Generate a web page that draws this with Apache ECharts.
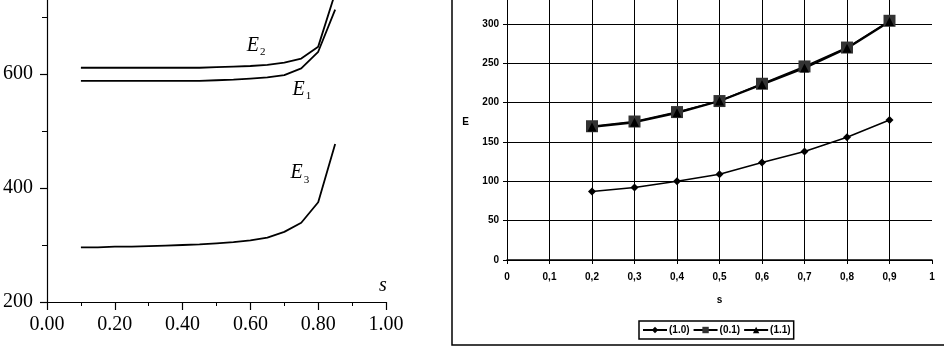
<!DOCTYPE html>
<html>
<head>
<meta charset="utf-8">
<title>E(s)</title>
<script src="https://cdn.jsdelivr.net/npm/echarts@6/dist/echarts.min.js"></script>
<style>
    html, body { margin: 0; padding: 0; background: #fff; }
    #chart_dom { width: 944px; height: 347px; }
</style>
</head>
<body>
<div id="chart_dom"></div>
<script>
// left panel: E1, E2, E3 against s
const sLeft = [0.1, 0.15, 0.2, 0.25, 0.3, 0.35, 0.4, 0.45, 0.5, 0.55, 0.6, 0.65, 0.7, 0.75, 0.8, 0.85]
const E1 = [588, 588, 588, 588, 588, 588, 588, 588, 589, 590, 592, 594, 598, 610, 639, 713]
const E2 = [611, 611, 611, 611, 611, 611, 611, 611, 612, 613, 614, 616, 620, 627, 648, 742]
const E3 = [296, 296, 297, 297, 298, 299, 300, 301, 303, 305, 308, 313, 323, 339, 375, 477]
// where the curve names sit, in data units [s, E]
const leftNames = ['E1', 'E2', 'E3']
const leftNamePos = [[0.752, 573], [0.617, 649], [0.746, 426]]

// right panel: three cases
const sRight = [0.2, 0.3, 0.4, 0.5, 0.6, 0.7, 0.8, 0.9]
const r10 = [87, 92, 100, 109, 124, 138, 156, 178]
const r01 = [170, 176, 188, 202, 224, 246, 270, 304]
const r11 = [169, 175, 187, 202, 223, 244, 269, 303]
const rightNames = ['(1.0)', '(0.1)', '(1.1)']

const serif = 'Liberation Serif'
const sans = 'Liberation Sans'

function pairs(xs, ys) {
    return xs.map((x, i) => [x, ys[i]])
}

const chart = echarts.init(document.getElementById('chart_dom'), null, { renderer: 'canvas' })

const leftSeries = [E1, E2, E3].map((ys, i) => ({
    name: leftNames[i],
    type: 'line',
    xAxisIndex: 0,
    yAxisIndex: 0,
    data: pairs(sLeft, ys),
    symbol: 'none',
    smooth: false,
    lineStyle: { color: '#000', width: 1.8 },
    markPoint: {
        symbol: 'circle',
        symbolSize: 0,
        data: [{
            coord: leftNamePos[i],
            label: {
                show: true,
                formatter: '{e|E}{sub|' + leftNames[i].slice(1) + '}',
                rich: {
                    e: { fontFamily: serif, fontStyle: 'italic', fontSize: 20, lineHeight: 22, color: '#000' },
                    sub: { fontFamily: serif, fontSize: 11, lineHeight: 12, color: '#000', verticalAlign: 'top', padding: [12, 0, 0, 1] },
                },
            },
        }],
    },
}))

const rightStyle = [
    { symbol: 'diamond', symbolSize: 8, color: '#000', width: 1.5 },
    { symbol: 'rect', symbolSize: 12, color: '#333', width: 1.5 },
    { symbol: 'triangle', symbolSize: 9, color: '#000', width: 2.2 },
]

const rightSeries = [r10, r01, r11].map((ys, i) => ({
    name: rightNames[i],
    type: 'line',
    xAxisIndex: 1,
    yAxisIndex: 1,
    data: pairs(sRight, ys),
    symbol: rightStyle[i].symbol,
    symbolSize: rightStyle[i].symbolSize,
    showAllSymbol: true,
    itemStyle: { color: rightStyle[i].color },
    lineStyle: { color: '#000', width: rightStyle[i].width },
}))

const option = {
    animation: false,
    grid: [
        { left: 47, top: -40, width: 339, height: 342, outerBoundsMode: 'none', containLabel: false },
        { left: 507, top: -15.4, width: 425, height: 275.4, outerBoundsMode: 'none', containLabel: false },
    ],
    xAxis: [
        {
            gridIndex: 0,
            type: 'value',
            min: 0,
            max: 1,
            interval: 0.2,
            name: 's',
            nameLocation: 'end',
            nameGap: -3,
            nameTextStyle: {
                fontFamily: serif, fontStyle: 'italic', fontSize: 20, color: '#000',
                align: 'center', verticalAlign: 'bottom', padding: [0, 0, 6, 0],
            },
            splitLine: { show: false },
            axisLine: { show: true, onZero: false, lineStyle: { color: '#000', width: 1.2 } },
            axisTick: { show: true, length: 8, lineStyle: { color: '#000', width: 1.2 } },
            minorTick: { show: true, splitNumber: 2, length: 4, lineStyle: { color: '#000' } },
            axisLabel: {
                margin: 13,
                fontFamily: serif,
                fontSize: 20,
                color: '#000',
                formatter: v => v.toFixed(2),
            },
        },
        {
            gridIndex: 1,
            type: 'value',
            min: 0,
            max: 1,
            interval: 0.1,
            name: 's',
            nameLocation: 'middle',
            nameGap: 35,
            nameTextStyle: { fontFamily: sans, fontWeight: 'bold', fontSize: 10, color: '#000' },
            splitLine: { show: true, showMaxLine: false, lineStyle: { color: '#000', width: 1 } },
            axisLine: { show: true, onZero: false, lineStyle: { color: '#000', width: 1.5 } },
            axisTick: { show: true, length: 4, lineStyle: { color: '#000' } },
            axisLabel: {
                margin: 12,
                fontFamily: sans,
                fontWeight: 'bold',
                fontSize: 10,
                color: '#000',
                formatter: v => String(+v.toFixed(1)).replace('.', ','),
            },
        },
    ],
    yAxis: [
        {
            gridIndex: 0,
            type: 'value',
            min: 200,
            max: 800,
            interval: 200,
            splitLine: { show: false },
            axisLine: { show: true, lineStyle: { color: '#000', width: 1.2 } },
            axisTick: { show: true, length: 7, lineStyle: { color: '#000', width: 1.2 } },
            minorTick: { show: true, splitNumber: 2, length: 5, lineStyle: { color: '#000' } },
            axisLabel: {
                margin: 14,
                fontFamily: serif,
                fontSize: 20,
                color: '#000',
            },
        },
        {
            gridIndex: 1,
            type: 'value',
            min: 0,
            max: 350,
            interval: 50,
            name: 'E',
            nameLocation: 'middle',
            nameRotate: 0,
            nameGap: 38,
            nameTextStyle: { fontFamily: sans, fontWeight: 'bold', fontSize: 10, color: '#000' },
            splitLine: { show: true, lineStyle: { color: '#000', width: 1 } },
            axisLine: { show: true, lineStyle: { color: '#000', width: 1 } },
            axisTick: { show: true, length: 4, lineStyle: { color: '#000' } },
            axisLabel: {
                margin: 8,
                fontFamily: sans,
                fontWeight: 'bold',
                fontSize: 10,
                color: '#000',
            },
        },
    ],
    legend: {
        data: rightNames,
        left: 639,
        top: 321,
        orient: 'horizontal',
        itemWidth: 24,
        itemHeight: 8,
        itemGap: 3,
        padding: [4, 3, 4, 3],
        borderColor: '#000',
        borderWidth: 1.5,
        borderRadius: 0,
        textStyle: { fontFamily: sans, fontWeight: 'bold', fontSize: 10, color: '#000', padding: [0, 0, 0, -3] },
    },
    // frame round the right panel
    graphic: [
        {
            type: 'rect',
            silent: true,
            shape: { x: 452, y: -5, width: 520, height: 350 },
            style: { fill: 'none', stroke: '#000', lineWidth: 1.5 },
        },
    ],
    series: [...leftSeries, ...rightSeries],
}

chart.setOption(option)
</script>
</body>
</html>
